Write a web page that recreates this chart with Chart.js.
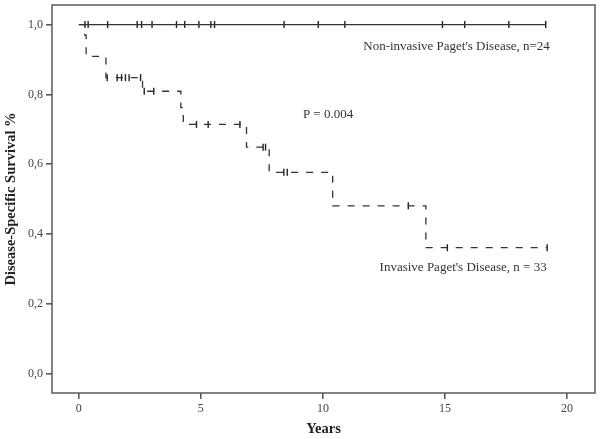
<!DOCTYPE html>
<html>
<head>
<meta charset="utf-8">
<script src="https://cdn.jsdelivr.net/npm/chart.js@4.4.1/dist/chart.umd.min.js"></script>
<style>
  html, body { margin: 0; padding: 0; background: #fff; }
  #wrap { width: 600px; height: 439px; }
</style>
</head>
<body>
<div id="wrap"><canvas id="km" width="600" height="439"></canvas></div>
<script>
// tick labels
const xTicks = [0, 5, 10, 15, 20];
const yTicks = [0, 0.2, 0.4, 0.6, 0.8, 1.0];

// invasive Paget - KM steps (time, survival after the event)
const invTempos = [0, 0.24, 0.30, 1.11, 2.61, 4.18, 4.28, 6.87, 7.80, 10.40, 14.22, 19.19];
const invSobrev = [1, 0.970, 0.909, 0.848, 0.809, 0.762, 0.714, 0.649, 0.577, 0.481, 0.361, 0.361];
// censored cases (invasive)
const invCensTempos = [1.16, 1.57, 1.75, 1.91, 2.06, 2.53, 2.68, 3.07, 4.82, 5.30, 6.60, 7.55, 7.65, 8.40, 8.54, 13.50, 15.10, 19.19];
const invCensSobrev = [0.848, 0.848, 0.848, 0.848, 0.848, 0.848, 0.809, 0.809, 0.714, 0.714, 0.714, 0.649, 0.649, 0.577, 0.577, 0.481, 0.361, 0.361];

// non-invasive - no events
const nonTempos = [0, 19.13];
const nonSobrev = [1, 1];
const nonCensTempos = [0.25, 0.38, 1.18, 2.39, 2.57, 3.00, 4.00, 4.34, 4.92, 5.41, 5.56, 8.41, 9.81, 10.90, 14.90, 15.81, 17.62, 19.13];

// text inside the plot
const notas = [
    { texto: "Non-invasive Paget's Disease, n=24", x: 19.3, y: 0.937, align: 'right' },
    { texto: 'P = 0.004', x: 9.18, y: 0.741, align: 'left' },
    { texto: "Invasive Paget's Disease, n = 33", x: 19.17, y: 0.303, align: 'right' }
];

const pares = (xs, ys) => xs.map((x, i) => ({ x: x, y: ys[i] }));
const SERIF = "'Liberation Serif', 'Times New Roman', serif";
const COR_LINHA = '#333';
const COR_EIXO = '#5a5a5a';

// moldura + textos
const molduraPlugin = {
    id: 'moldura',
    afterDraw(chart) {
        const { ctx, chartArea: a, scales } = chart;
        ctx.save();
        ctx.strokeStyle = COR_EIXO;
        ctx.lineWidth = 1.5;
        ctx.strokeRect(a.left, a.top, a.right - a.left, a.bottom - a.top);

        ctx.fillStyle = '#333';
        ctx.font = '13px ' + SERIF;
        ctx.textBaseline = 'middle';
        notas.forEach(n => {
            ctx.textAlign = n.align;
            ctx.fillText(n.texto, scales.x.getPixelForValue(n.x), scales.y.getPixelForValue(n.y));
        });
        ctx.restore();
    }
};

const censura = {
    showLine: false,
    pointStyle: 'line',
    rotation: 90,
    pointRadius: 3.5,
    pointHoverRadius: 3.5,
    borderColor: '#222',
    pointBorderWidth: 1.4,
    backgroundColor: '#222'
};

new Chart(document.getElementById('km'), {
    type: 'scatter',
    data: {
        datasets: [
            {
                label: 'Non-invasive',
                data: pares(nonTempos, nonSobrev),
                showLine: true,
                borderColor: COR_LINHA,
                borderWidth: 1.3,
                pointRadius: 0
            },
            Object.assign({ label: 'Non-invasive censored', data: pares(nonCensTempos, nonCensTempos.map(() => 1)) }, censura),
            {
                label: 'Invasive',
                data: pares(invTempos, invSobrev),
                showLine: true,
                stepped: true,
                borderColor: COR_LINHA,
                borderWidth: 1.3,
                borderDash: [7, 8],
                pointRadius: 0
            },
            Object.assign({ label: 'Invasive censored', data: pares(invCensTempos, invCensSobrev) }, censura)
        ]
    },
    options: {
        responsive: false,
        animation: false,
        events: [],
        layout: { padding: { top: 5, right: 5, left: 0, bottom: 0 } },
        plugins: {
            legend: { display: false },
            tooltip: { enabled: false }
        },
        scales: {
            x: {
                type: 'linear',
                min: -1.1,
                max: 21.15,
                afterBuildTicks: s => { s.ticks = xTicks.map(v => ({ value: v })); },
                afterFit: s => { s.height = 46; s.paddingLeft = 0; s.paddingRight = 0; },
                grid: { display: true, drawOnChartArea: false, drawTicks: true, tickLength: 6, tickColor: COR_EIXO, lineWidth: 1.6 },
                border: { display: false },
                ticks: { color: '#444', font: { family: SERIF, size: 12 }, padding: 3, maxRotation: 0 },
                title: { display: true, text: 'Years', color: '#222', font: { family: SERIF, size: 14.5, weight: 'bold' }, padding: { top: 4, bottom: 1 } }
            },
            y: {
                type: 'linear',
                min: -0.055,
                max: 1.056,
                afterBuildTicks: s => { s.ticks = yTicks.map(v => ({ value: v })); },
                afterFit: s => { s.width = 52; s.paddingTop = 0; s.paddingBottom = 0; },
                grid: { display: true, drawOnChartArea: false, drawTicks: true, tickLength: 6, tickColor: COR_EIXO, lineWidth: 1.6 },
                border: { display: false },
                ticks: {
                    color: '#444',
                    font: { family: SERIF, size: 12 },
                    padding: 3,
                    callback: v => v.toFixed(1).replace('.', ',')
                },
                title: { display: true, text: 'Disease-Specific Survival %', color: '#222', font: { family: SERIF, size: 14.5, weight: 'bold' }, padding: { top: 3, bottom: 4 } }
            }
        }
    },
    plugins: [molduraPlugin]
});
</script>
</body>
</html>
